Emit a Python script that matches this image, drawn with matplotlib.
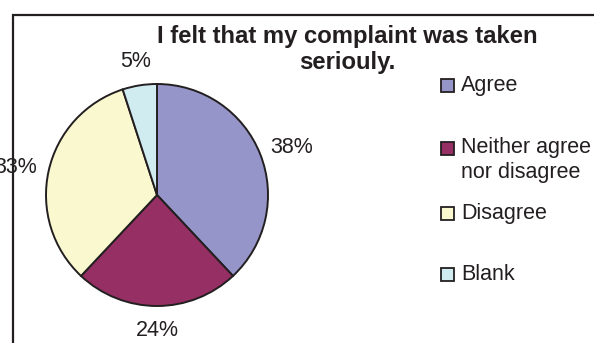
import numpy as np
import matplotlib
matplotlib.use("Agg")
import matplotlib.pyplot as plt
from matplotlib.patches import Rectangle

plt.rcParams['font.family'] = ['Liberation Sans', 'DejaVu Sans']

categories = ["Agree", "Neither agree\nnor disagree", "Disagree", "Blank"]
percentages = [38, 24, 33, 5]
colors = ["#9595C9", "#962F63", "#FAF8CF", "#D1ECF1"]
title_lines = ["I felt that my complaint was taken", "seriouly."]

W, H = 594, 343
fig = plt.figure(figsize=(W / 100, H / 100), dpi=100)
ax = fig.add_axes([0, 0, 1, 1])

cx, cy, R = 157, H - 195, 111
ax.pie(percentages, colors=colors, startangle=90, counterclock=False,
       center=(cx, cy), radius=R,
       wedgeprops=dict(edgecolor="#231F20", linewidth=1.4))
ax.set_xlim(0, W)
ax.set_ylim(0, H)
ax.set_aspect("equal")
ax.axis("off")

# percentage labels outside each wedge
fracs = np.array(percentages) / sum(percentages)
starts = 90 - 360 * np.concatenate([[0], np.cumsum(fracs)[:-1]])
mids = starts - 180 * fracs
for p, a in zip(percentages, mids):
    t = np.deg2rad(a)
    d = R + 24
    x = cx + d * np.cos(t) + 10.5 * np.cos(t) * abs(np.cos(t))
    y = cy + d * np.sin(t) - 2 * abs(np.cos(t))
    ax.text(x, y, f"{p}%", ha="center", va="center", fontsize=15.5,
            color="#231F20")

# title
ax.text(347, H - 37, title_lines[0], ha="center", va="center",
        fontsize=17.2, fontweight="bold", color="#231F20")
ax.text(347, H - 62, title_lines[1], ha="center", va="center",
        fontsize=17.2, fontweight="bold", color="#231F20")

# legend
legend_y = [85, 148, 213, 274]
for lab, col, ly in zip(categories, colors, legend_y):
    ax.add_patch(Rectangle((441, H - ly - 6.5), 13, 13, facecolor=col,
                           edgecolor="#231F20", linewidth=1.3))
    if "\n" in lab:
        ax.text(461, H - ly + 11, lab, ha="left", va="top", fontsize=15.5,
                color="#231F20", linespacing=1.25)
    else:
        ax.text(461, H - ly, lab, ha="left", va="center", fontsize=15.5,
                color="#231F20")

# chart area border
ax.add_patch(Rectangle((13, -20), W + 20, H - 14.5 + 20, facecolor="none",
                       edgecolor="#231F20", linewidth=1.6, clip_on=False))

fig.savefig("out.png", dpi=100)
